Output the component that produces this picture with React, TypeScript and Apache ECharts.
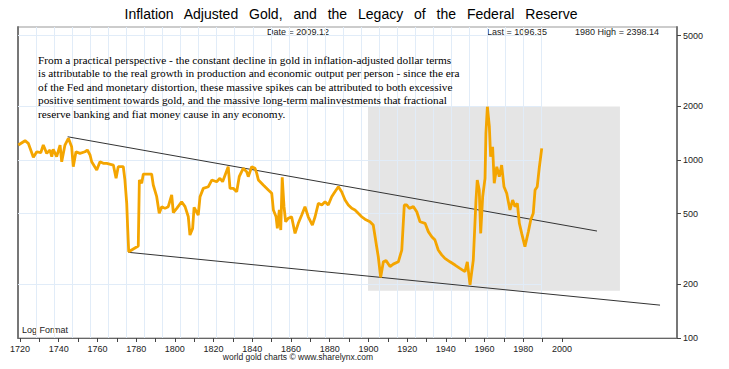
import React, { useEffect, useRef } from "react";
import * as echarts from "echarts";

// Gold price series (inflation adjusted, log scale)
const years = [
  1720.2, 1723.9, 1725.7, 1728.5, 1730.4, 1732.6, 1734.0, 1735.9, 1737.7, 1738.7,
  1739.5, 1741.4, 1743.3, 1744.2, 1746.0, 1747.9, 1749.7, 1750.6, 1752.1, 1754.3,
  1757.1, 1758.4, 1759.9, 1760.8, 1763.6, 1765.4, 1767.2, 1769.1, 1772.8, 1774.3,
  1775.5, 1778.3, 1779.2, 1780.2, 1780.7, 1781.3, 1786.6, 1787.2, 1788.5, 1789.4,
  1794.0, 1794.9, 1796.8, 1798.2, 1799.6, 1801.4, 1803.2, 1805.1, 1806.0, 1807.9,
  1810.6, 1812.5, 1814.3, 1815.2, 1816.7, 1817.5, 1819.8, 1820.8, 1822.6, 1825.4,
  1827.3, 1830.0, 1831.8, 1833.3, 1836.4, 1837.4, 1839.2, 1841.1, 1842.5, 1844.7,
  1846.6, 1847.5, 1849.4, 1851.2, 1852.2, 1853.1, 1855.8, 1858.6, 1860.5, 1861.4,
  1862.9, 1863.6, 1864.7, 1865.5, 1866.3, 1867.3, 1868.2, 1869.7, 1871.5, 1873.4,
  1875.2, 1877.1, 1878.9, 1880.7, 1883.0, 1884.5, 1886.3, 1888.2, 1890.0, 1891.8,
  1893.7, 1895.5, 1897.4, 1899.2, 1901.1, 1902.9, 1904.8, 1906.6, 1908.4, 1910.3,
  1912.1, 1914.9, 1916.7, 1918.6, 1919.5, 1920.8, 1922.3, 1923.8, 1926.0, 1927.8,
  1930.6, 1932.5, 1933.9, 1935.2, 1936.7, 1938.9, 1940.8, 1942.6, 1945.4, 1947.2,
  1949.1, 1950.9, 1952.7, 1954.6, 1956.4, 1959.2, 1962.0, 1964.7, 1967.5, 1968.8,
  1970.3, 1972.1, 1973.6, 1974.3, 1975.4, 1976.2, 1977.3, 1978.6, 1979.1, 1979.9,
  1981.0, 1981.7, 1982.8, 1983.7, 1985.1, 1986.5, 1987.8, 1989.1, 1990.6, 1992.4,
  1993.9, 1995.2, 1996.5, 1997.6, 1998.9, 2000.7, 2002.6, 2003.9, 2005.3, 2006.3,
  2007.5, 2008.6, 2010.0,
];
const gold = [
  1214, 1284, 1241, 1036, 1113, 1099, 1214, 1090, 1138, 1044,
  1148, 1044, 1214, 978, 1214, 1324, 1188, 917, 1113, 1090,
  1113, 1138, 1067, 978, 879, 978, 958, 958, 937, 789,
  917, 917, 772, 571, 422, 305, 329, 772, 740, 834,
  834, 724, 622, 502, 547, 535, 547, 636, 506, 535,
  583, 547, 480, 379, 413, 542, 491, 622, 693, 708,
  772, 755, 789, 755, 917, 693, 693, 664, 806, 898,
  860, 806, 917, 898, 842, 772, 724, 678, 650, 524,
  480, 413, 524, 404, 800, 547, 450, 471, 480, 387,
  441, 491, 547, 480, 431, 480, 571, 559, 583, 559,
  622, 664, 708, 664, 596, 559, 535, 524, 502, 480,
  465, 450, 431, 326, 286, 219, 268, 272, 252, 260,
  268, 312, 559, 559, 535, 547, 512, 450, 441, 396,
  371, 355, 312, 293, 280, 268, 257, 246, 236, 268,
  199, 274, 596, 772, 678, 387, 622, 789, 1412, 1993,
  1539, 1044, 1188, 740, 917, 806, 937, 708, 650, 524,
  596, 547, 571, 441, 387, 326, 396, 460, 502, 678,
  708, 898, 1163,
];

const upperTrend = [[1747.5, 1351], [2040.6, 399]];
const lowerTrend = [[1781.1, 303], [2075.5, 153]];
const shadeFrom = [1913.8, 2000];
const shadeTo = [2053.3, 184];

const yTickValues = [100, 200, 500, 1000, 2000, 5000];
const yGridValues = [200, 500, 1000, 2000, 5000];
const xLabelValues = [1720, 1740, 1760, 1780, 1800, 1820, 1840, 1860, 1880, 1900, 1920, 1940, 1960, 1980, 2000];
const xTickValues = [1720, 1730, 1740, 1750, 1760, 1770, 1780, 1790, 1800, 1810, 1820, 1830, 1840, 1850, 1860, 1870, 1880, 1890, 1900, 1910, 1920, 1930, 1940, 1950, 1960, 1970, 1980, 1990, 2000];
const gridYears = [1730, 1740, 1750, 1760, 1770, 1780, 1790, 1800, 1810, 1820, 1830, 1840, 1850, 1860, 1870, 1880, 1890, 1900, 1910, 1920, 1930, 1940, 1950, 1960, 1970, 1980, 1990, 2000, 2010];

const titleText = "Inflation\u2002 Adjusted\u2002 Gold,\u2002 and\u2002 the\u2002 Legacy\u2002 of\u2002 the\u2002 Federal\u2002 Reserve";
const paragraph = [
  "From a practical perspective - the constant decline in gold in inflation-adjusted dollar terms",
  "is attributable to the real growth in production and economic output per person - since the era",
  "of the Fed and monetary distortion, these massive spikes can be attributed to both excessive",
  "positive sentiment towards gold, and the massive long-term malinvestments that fractional",
  "reserve banking and fiat money cause in any economy.",
];

export default function App() {
  const ref = useRef<HTMLDivElement>(null);
  useEffect(() => {
    if (!ref.current) return;
    const chart = echarts.init(ref.current, null, { renderer: "svg" });
    const goldData = years.map((y, i) => [y, gold[i]]);
    const sans = "'Liberation Sans', Arial, sans-serif";
    const plain = (v: number) => String(v);
    chart.setOption({
      animation: false,
      backgroundColor: "#ffffff",
      grid: { left: 18, right: 52, top: 27, bottom: 31, show: true, borderColor: "#999", borderWidth: 1 },
      xAxis: [
        {
          type: "value", min: 1720, max: 2084.9, show: false,
        },
        {
          type: "value", min: 1718.97, max: 2059.4, position: "bottom",
          axisLine: { show: true, lineStyle: { color: "#666", width: 1 } },
          axisTick: { show: true, customValues: xTickValues, length: 4, lineStyle: { color: "#444" } },
          axisLabel: { customValues: xLabelValues, formatter: plain, fontSize: 9, color: "#222", margin: 6, fontFamily: sans },
          splitLine: { show: false },
        },
      ],
      yAxis: [
        {
          type: "log", logBase: 10, min: 100, max: 5590, position: "right",
          axisLine: { show: true, lineStyle: { color: "#777", width: 2 } },
          axisTick: { show: true, customValues: yTickValues, length: 4, lineStyle: { color: "#444" } },
          axisLabel: { customValues: yTickValues, formatter: plain, fontSize: 9, color: "#222", margin: 6, fontFamily: sans },
          splitLine: { show: false },
        },
        {
          type: "value", min: 0, max: 1, position: "left",
          axisLine: { show: true, lineStyle: { color: "#777", width: 2 } },
          axisTick: { show: false }, axisLabel: { show: false }, splitLine: { show: false },
        },
      ],
      series: [
        {
          type: "line", data: [], xAxisIndex: 0, yAxisIndex: 0, z: 1, silent: true,
          markArea: {
            silent: true, z: 1,
            itemStyle: { color: "#E5E5E5" },
            data: [[{ coord: shadeFrom }, { coord: shadeTo }]],
          },
        },
        {
          type: "line", data: [], xAxisIndex: 0, yAxisIndex: 0, z: 2, silent: true,
          markLine: {
            silent: true, z: 2, symbol: "none", label: { show: false },
            lineStyle: { color: "#E1ECF8", width: 1, type: "solid" },
            data: [
              ...gridYears.map((v) => ({ xAxis: v })),
              ...yGridValues.map((v) => [{ coord: [1720, v] }, { coord: [2010, v] }]),
            ],
          },
        },
        {
          type: "line", data: upperTrend, xAxisIndex: 0, yAxisIndex: 0, z: 3,
          symbol: "none", lineStyle: { color: "#333", width: 1 },
        },
        {
          type: "line", data: lowerTrend, xAxisIndex: 0, yAxisIndex: 0, z: 3,
          symbol: "none", lineStyle: { color: "#333", width: 1 },
        },
        {
          type: "line", data: goldData, xAxisIndex: 0, yAxisIndex: 0, z: 4,
          symbol: "none", lineStyle: { color: "#F4A500", width: 2.8 },
        },
      ],
      graphic: [
        { type: "text", x: 351, y: 14, style: { text: titleText, font: "14px " + sans, fill: "#000", align: "center", verticalAlign: "middle" } },
        { type: "text", x: 298, y: 32, style: { text: "Date = 2009.12", font: "9px " + sans, fill: "#222", align: "center", verticalAlign: "middle" } },
        { type: "text", x: 517, y: 32, style: { text: "Last = 1096.35", font: "9px " + sans, fill: "#222", align: "center", verticalAlign: "middle" } },
        { type: "text", x: 617, y: 32, style: { text: "1980 High = 2398.14", font: "9px " + sans, fill: "#222", align: "center", verticalAlign: "middle" } },
        { type: "text", x: 38, y: 53, z: 10, style: { text: paragraph.join("\n"), font: "11.3px 'Liberation Serif', 'Times New Roman', serif", lineHeight: 13.5, fill: "#000", align: "left", verticalAlign: "top" } },
        { type: "text", x: 22, y: 330, style: { text: "Log Format", font: "9px " + sans, fill: "#222", align: "left", verticalAlign: "middle" } },
        { type: "text", x: 298, y: 357, style: { text: "world gold charts \u00A9 www.sharelynx.com", font: "8.5px " + sans, fill: "#222", align: "center", verticalAlign: "middle" } },
      ],
    });
    return () => chart.dispose();
  }, []);
  return <div ref={ref} style={{ position: "fixed", left: 0, top: 0, width: 729, height: 369 }} />;
}
